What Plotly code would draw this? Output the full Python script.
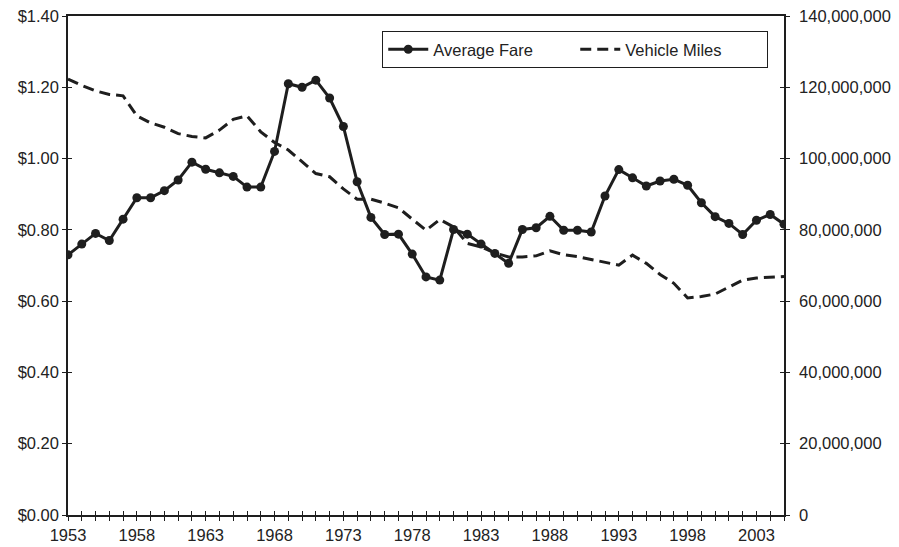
import plotly.graph_objects as go

years = list(range(1953, 2006))

# average fare in dollars, one value per year
avg_fare = [0.73, 0.76, 0.79, 0.77, 0.83, 0.89, 0.89, 0.91, 0.94, 0.99,
            0.97, 0.96, 0.95, 0.92, 0.92, 1.02, 1.21, 1.20, 1.22, 1.17,
            1.09, 0.935, 0.835, 0.787, 0.788, 0.732, 0.668, 0.659, 0.801, 0.788,
            0.760, 0.734, 0.706, 0.801, 0.806, 0.838, 0.799, 0.799, 0.794, 0.895,
            0.969, 0.946, 0.923, 0.937, 0.942, 0.925, 0.876, 0.837, 0.818, 0.787,
            0.827, 0.843, 0.816]

# vehicle miles, one value per year
vehicle_miles = [122.3, 120.5, 119.0, 118.0, 117.6, 112.0, 110.0, 108.8, 107.0, 106.2,
                 105.8, 108.0, 111.0, 112.0, 107.5, 104.5, 102.4, 99.0, 95.8, 94.9,
                 91.5, 88.6, 88.6, 87.5, 86.2, 83.0, 79.9, 82.9, 80.8, 76.2,
                 75.2, 73.5, 72.4, 72.4, 72.7, 74.1, 73.0, 72.5, 71.7, 70.8,
                 70.1, 72.9, 70.6, 67.5, 65.0, 60.9, 61.3, 62.0, 64.0, 65.9,
                 66.5, 66.7, 66.9]
vehicle_miles = [v * 1e6 for v in vehicle_miles]

fare_ticks = [0, 0.2, 0.4, 0.6, 0.8, 1.0, 1.2, 1.4]
miles_ticks = [0, 20e6, 40e6, 60e6, 80e6, 100e6, 120e6, 140e6]
year_labels = [str(y) if (y - 1953) % 5 == 0 else "" for y in years]

ink = "#1e1e1e"
font = dict(family="Liberation Sans, Arial", size=16.5, color="#222222")

fig = go.Figure()

fig.add_trace(go.Scatter(
    x=years, y=avg_fare, name="Average Fare", mode="lines+markers",
    line=dict(color=ink, width=3), marker=dict(size=9, color=ink),
    xaxis="x", yaxis="y"))

fig.add_trace(go.Scatter(
    x=years, y=vehicle_miles, name="Vehicle Miles", mode="lines",
    line=dict(color=ink, width=3, dash="11px,6px"),
    xaxis="x", yaxis="y2"))

# empty traces so the extra axes (inside half of the crossing ticks) get drawn
fig.add_trace(go.Scatter(x=[], y=[], xaxis="x2", yaxis="y3", showlegend=False))
fig.add_trace(go.Scatter(x=[], y=[], xaxis="x2", yaxis="y4", showlegend=False))

common = dict(ticklen=4, tickcolor=ink, tickwidth=1, showgrid=False,
              zeroline=False, automargin=False, ticklabeloverflow="allow")

# page body has an 8px margin, so the figure is shrunk by that much
fig.update_layout(
    width=891, height=539,
    margin=dict(l=60, r=115, t=8, b=32),
    plot_bgcolor="white", paper_bgcolor="white",
    font=font,
    xaxis=dict(range=[1953, 2005], tickvals=years, ticktext=year_labels,
               ticks="outside", showline=True, linecolor=ink, linewidth=1.5,
               mirror=True, **common),
    xaxis2=dict(range=[1953, 2005], overlaying="x", side="bottom",
                tickvals=years, showticklabels=False, ticks="inside",
                showline=False, **common),
    yaxis=dict(range=[0, 1.4], tickvals=fare_ticks, tickformat="$.2f",
               ticks="outside", showline=True, linecolor=ink, linewidth=1.5,
               **common),
    yaxis2=dict(range=[0, 140e6], tickvals=miles_ticks, tickformat=",d",
                overlaying="y", side="right", ticklabelstandoff=6,
                ticks="outside", showline=True, linecolor=ink, linewidth=1.5,
                **common),
    yaxis3=dict(range=[0, 1.4], tickvals=fare_ticks, overlaying="y", side="left",
                showticklabels=False, ticks="inside", showline=False, **common),
    yaxis4=dict(range=[0, 140e6], tickvals=miles_ticks, overlaying="y", side="right",
                showticklabels=False, ticks="inside", showline=False, **common),
    legend=dict(orientation="h", x=0.978, xanchor="right", y=0.97, yanchor="top",
                bordercolor=ink, borderwidth=1, bgcolor="white",
                font=font, itemwidth=40, entrywidth=137),
)

fig.write_html("out.html")
